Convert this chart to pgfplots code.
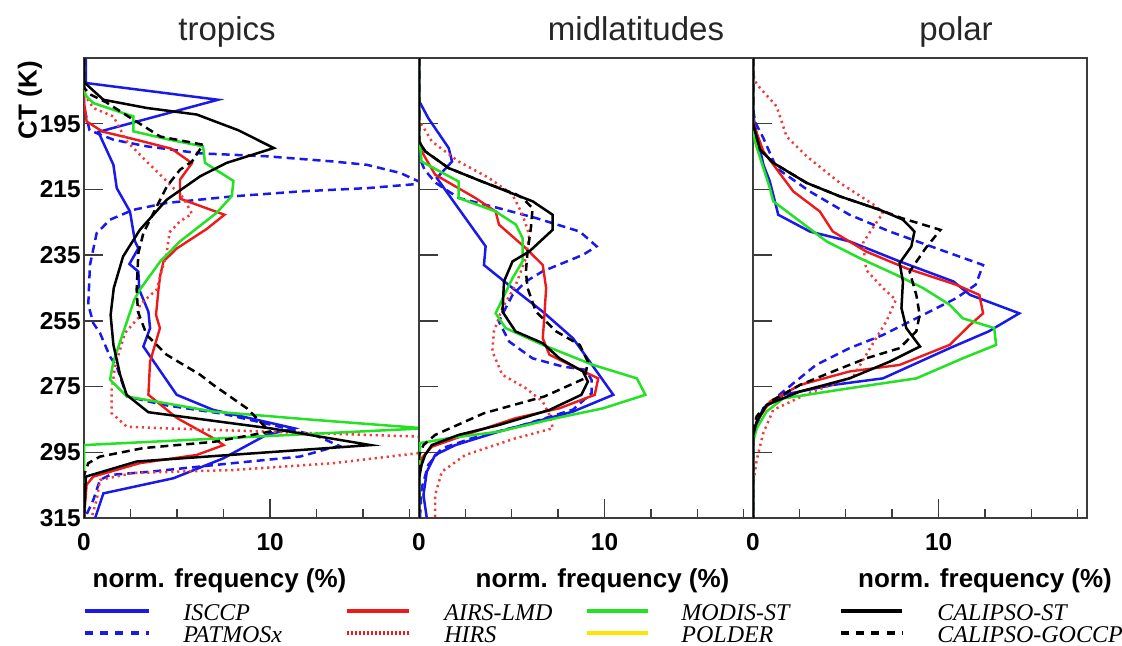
\documentclass[border=0pt]{standalone}
\usepackage{fontspec}
\setmainfont{Liberation Sans}
\newfontfamily\legfont{Liberation Serif}
\usepackage{pgfplots}
\pgfplotsset{compat=1.18}
\definecolor{cblue}{RGB}{25,25,235}
\definecolor{cred}{RGB}{240,25,25}
\definecolor{cgreen}{RGB}{35,225,35}
\definecolor{cyel}{RGB}{250,230,0}
\definecolor{axgray}{RGB}{60,60,60}
\pgfplotsset{
 panel/.style={scale only axis, height=230pt, xmin=0, xmax=18, ymin=175, ymax=315, y dir=reverse,
  xtick={0,10}, xticklabels={0,10}, minor xtick={2.5,5,7.5,12.5,15,17.5},
  ytick={195,215,235,255,275,295,315},
  xtick pos=bottom, ytick pos=left, tick align=inside,
  major tick length=9.5pt, minor tick length=4.5pt,
  axis line style={axgray, line width=0.7pt},
  tick style={axgray, line width=0.7pt},
  tick label style={font=\fontsize{12.2}{13}\selectfont\bfseries},
  /pgf/number format/assume math mode=true,
  xticklabel style={yshift=-4pt},
  yticklabel style={inner xsep=1.5pt},
  anchor=south west},
 s1/.style={cblue, line width=1.25pt},
 s2/.style={cblue, line width=1.25pt, dash pattern=on 4pt off 2.5pt},
 s3/.style={cred, line width=1.2pt},
 s4/.style={cred!85, line width=1.25pt, dash pattern=on 1.1pt off 1.9pt},
 s5/.style={cgreen, line width=1.25pt},
 s6/.style={black, line width=1.25pt},
 s7/.style={black, line width=1.25pt, dash pattern=on 4pt off 2.5pt},
}
\begin{document}
\begin{tikzpicture}
\useasboundingbox (0,0) rectangle (561pt,-322.5pt);
% ---------------- tropics
\begin{axis}[panel, at={(42pt,-259pt)}, width=167.5pt,
  yticklabels={195,215,235,255,275,295,315}]
\addplot[s1] coordinates {(0.1,175) (0.1,182.6) (7.2,187.7) (0.77,197.5) (1.58,207.5) (1.76,214.6) (2.47,221.7) (2.74,230.8) (2.92,232.9) (2.44,237.7) (2.92,240) (2.97,245.5) (3.46,252.2) (3.55,257.2) (3.19,262.8) (4.98,277.5) (6.95,282.1) (11.3,287.7) (9.8,289.7) (7.5,296.8) (4.8,302.9) (1.04,307.5) (0.6,315)};
\addplot[s2] coordinates {(0,175) (0,190) (0.3,197) (1.6,199.9) (3.4,201.9) (6.2,204) (9.8,204.9) (13.4,206.5) (15.2,207.5) (17,210) (18,212.6) (18.4,213) (18,213.3) (15.2,214.6) (11.6,215.6) (8,217.1) (4.45,219.1) (2.65,221.2) (1.4,224.2) (0.68,228.3) (0.32,238) (0.23,250) (0.5,255.7) (0.86,258.7) (1.4,265.9) (1.76,268.9) (2.3,278) (4.3,280.6) (7.5,283.3) (10.5,287.2) (12.5,290) (13.7,293) (11.6,296.3) (8,298.3) (3.55,300.9) (1.4,301.9) (0.86,303.4) (0.5,309.5) (0.05,315)};
\addplot[s3] coordinates {(0,175) (0,189) (0.05,190.2) (0.14,194.3) (1.0,197.4) (2.47,199.4) (4.7,202.6) (5.8,207) (5.16,212) (5.16,217.8) (7.55,222.7) (6.6,227) (5.0,232.9) (4.27,236.9) (4.1,241) (4.0,245.5) (3.87,253.2) (4.08,257.2) (3.55,267.4) (3.46,277.5) (5.0,284.6) (6.95,290.7) (7.5,292.8) (6.06,295.8) (3.0,298.3) (0.5,302.4) (0.14,304.9) (0,315)};
\addplot[s4] coordinates {(0,175) (0,186) (0.5,190.2) (1.58,192.8) (2.3,200.4) (3.37,206.5) (4.44,212.5) (5.34,217.6) (5.8,222.4) (5.16,224.7) (4.6,228) (4.44,234.4) (3.9,245.5) (3.0,250.1) (2.9,254.2) (2.2,258.7) (1.67,268.9) (1.49,276) (1.49,283.1) (2.3,287.2) (4.45,287.7) (9.8,288.7) (17.9,290.2) (20,292.5) (17.9,295.3) (13.4,298.3) (8.0,300.4) (2.65,301.3) (0.86,303.4) (0.68,309.5) (0.4,315)};
\addplot[s5] coordinates {(0,175) (0,185) (0.14,186.7) (0.5,188.7) (2.65,192.8) (2.65,197.3) (4.62,199.9) (6.4,201.9) (6.5,206.9) (8.03,212.4) (7.94,217) (7.13,222.1) (5.16,230.8) (4.1,236.9) (3.0,245.5) (2.7,248.6) (1.58,267.4) (1.4,272.9) (2.3,278) (6.95,282.6) (12.3,285.1) (18.3,287.7) (0,292.8) (0,315)};
\addplot[s6] coordinates {(0,175) (0,181.5) (0.05,182.6) (1.04,187.7) (3.37,190.2) (6.06,192.2) (8.3,197) (10.2,202.4) (7.67,206.9) (6.24,211) (4.45,218.1) (3.0,227.3) (2.1,235.4) (1.6,245) (1.43,253.2) (1.58,262.3) (1.94,271.4) (2.29,277.5) (3.46,282.8) (10.0,287.7) (15.4,292.8) (2.83,297.8) (0.1,302.4) (0,315)};
\addplot[s7] coordinates {(0,175) (0,184) (0.3,186) (1.2,188.5) (2.38,192.8) (4.1,198.9) (6.4,201.4) (5.8,206.5) (5.16,209) (4.45,214.1) (3.73,222.2) (3.19,228.3) (2.92,234.4) (2.83,245.5) (2.9,252.2) (3.37,259.3) (4.44,265.3) (6.24,271.4) (6.95,274.5) (8.75,281.6) (9.82,287.7) (10.0,288.7) (7.0,291.8) (3.2,293.7) (0.86,296.3) (0.23,298.3) (0,302) (0,315)};
\end{axis}
% ---------------- midlatitudes
\begin{axis}[panel, at={(209.5pt,-259pt)}, width=167pt, yticklabels={}]
\addplot[s1] coordinates {(0,175) (0,188) (0.5,193.3) (1.6,202.4) (1.78,206.5) (0.96,211.5) (1.6,216.6) (2.5,223.7) (3.59,232.3) (3.5,238) (5.04,245) (6.67,252.2) (8.3,260.3) (9.2,267.4) (10.47,277.5) (8.3,282.6) (4.3,288.7) (1.96,292.8) (0.87,295.8) (0.42,300.9) (0.24,308) (0.42,315)};
\addplot[s2] coordinates {(0,175) (0,205) (0.3,209) (0.9,213) (2.14,217.6) (4.3,220.7) (6.3,223.7) (8.66,227.8) (9.57,232.3) (8.84,234.9) (6.67,239.9) (5.76,243) (5.04,247.1) (4.67,251.1) (4.3,255.2) (4.86,261.3) (6.12,266.4) (7.75,268.9) (9.0,269.9) (9.3,273) (9.3,277) (8.3,282) (5.6,286.7) (2.86,290.7) (1.23,293.8) (0.5,298.8) (0.14,306) (0.05,315)};
\addplot[s3] coordinates {(0,175) (0,199) (0.14,203.4) (0.87,210.5) (3.04,217.6) (4.13,221.7) (4.31,225.7) (5.76,232.9) (6.67,238) (6.85,245) (6.76,253.2) (6.67,260.3) (7.03,265.3) (8.5,269.4) (9.66,272.5) (9.47,277.5) (7.57,281.6) (5.22,284.6) (2.5,289.7) (0.69,293.3) (0.14,296.8) (0,300) (0,315)};
\addplot[s4] coordinates {(0,175) (0,190) (0.05,194.3) (0.69,200.4) (2.14,206.5) (3.77,211.5) (5.04,216.6) (5.58,222.7) (5.94,228.8) (5.76,235.9) (5.22,244) (4.49,251.1) (4.04,258.2) (3.95,264.3) (4.49,271.4) (5.76,275.5) (6.67,279.6) (7.03,283.6) (7.21,287.7) (5.22,290.7) (2.5,295.8) (1.23,300.9) (0.87,308) (0.87,315)};
\addplot[s5] coordinates {(0,175) (0,198) (0.14,206.5) (2.14,212.6) (2.14,217.6) (4.13,221.7) (5.22,225.7) (5.58,229.8) (5.58,236.9) (5.04,242) (4.13,252.7) (4.67,257.2) (6.67,262.3) (9.38,268.4) (11.74,272.5) (12.2,277.5) (9.93,281.6) (7.39,284.6) (4.31,288.7) (1.6,290.7) (0.05,292.2) (0,315)};
\addplot[s6] coordinates {(0,175) (0,200.4) (0.33,203.4) (1.6,208.5) (3.4,212.6) (5.2,216.6) (6.12,218.6) (7.2,222.7) (7.2,227.3) (5.94,233.9) (5.04,236.9) (4.58,243) (4.5,252.2) (5.2,258.2) (6.67,261.8) (7.57,266.4) (8.84,270.4) (9.1,273.5) (8.75,277.5) (7.03,282.1) (4.3,286.7) (2.14,289.7) (0.69,292.8) (0.33,295.8) (0.14,298.8) (0,303) (0,315)};
\addplot[s7] coordinates {(0,175) (0,200.4) (0.33,203.4) (1.6,208.5) (3.4,212.6) (5.2,216.4) (5.58,217.6) (6.12,220.7) (6.03,226.8) (5.85,233.9) (5.76,240) (5.85,245) (6.3,252.2) (7.39,258.2) (8.66,262.3) (9.1,267.4) (8.93,272.5) (6.76,278) (3.5,283.1) (0.87,289.7) (0.24,292.8) (0,296) (0,315)};
\end{axis}
% ---------------- polar
\begin{axis}[panel, at={(376.5pt,-259pt)}, width=167pt, yticklabels={}]
\addplot[s1] coordinates {(0,175) (0,192.2) (0.2,198.3) (0.56,207.5) (0.91,212.6) (1.36,222.7) (3.06,227.8) (5.2,230.8) (7.9,236.9) (10.8,243) (11.7,247.1) (14.35,252.7) (12.7,258.2) (10.6,263.3) (8.8,267.9) (7.0,272.5) (4.3,274.5) (1.63,277.5) (0.56,281.6) (0.1,287.7) (0,290) (0,315)};
\addplot[s2] coordinates {(0,175) (0,190) (0.1,194.3) (0.56,199.4) (1.27,208.5) (3.06,215.6) (5.2,222.7) (7.37,227.8) (9.87,232.9) (12.4,238) (12.0,244) (10.95,248.1) (9.16,253.2) (7.0,259.3) (5.2,263.3) (3.4,268.4) (1.63,276.5) (0.56,281.6) (0.1,287.7) (0,290) (0,315)};
\addplot[s3] coordinates {(0,175) (0,193) (0.1,196.3) (0.56,203.4) (2.17,215.6) (3.6,221.7) (4.3,227.8) (6.1,233.9) (8.26,239) (10.95,244) (12.2,247.1) (12.4,252.7) (11.7,256.2) (10.6,262.3) (7.9,268.4) (5.2,270.4) (2.53,274.5) (0.91,279.6) (0.2,285.6) (0,290) (0,315)};
\addplot[s4] coordinates {(0,175) (0,180) (0.2,183) (1.27,189.7) (1.81,198.9) (2.89,204.9) (4.68,213) (6.6,220) (7.0,222.2) (6.3,228) (5.93,231.3) (6.1,239.5) (7.0,245) (7.7,248.6) (7.2,255) (6.47,261.8) (5.4,272) (3.0,277) (1.09,282.1) (0.55,289.2) (0.2,297.3) (0,305) (0,315)};
\addplot[s5] coordinates {(0,175) (0,194.3) (0.1,200.4) (0.56,208.5) (0.91,214.6) (1.09,218.6) (2.53,224.7) (3.96,230.8) (5.75,235.9) (7.72,241) (9.16,245) (10.6,250.1) (11.3,254.2) (13.0,257.2) (13.1,262.3) (11.3,266.4) (8.8,272.5) (5.2,275.5) (1.63,278.6) (0.73,282.6) (0.2,287.7) (0,292) (0,315)};
\addplot[s6] coordinates {(0,175) (0,195) (0.38,202.9) (1.09,206.9) (2.89,213) (4.68,217.1) (6.83,221.2) (8.08,224.2) (8.7,227.8) (8.53,232.4) (7.9,237.4) (8.08,243) (8.0,251.1) (8.26,257.2) (9.0,262.8) (7.37,267.4) (5.2,272.5) (2.53,276.5) (0.73,280.6) (0.2,285.6) (0,290) (0,315)};
\addplot[s7] coordinates {(0,175) (0,195) (0.38,202.9) (1.09,206.9) (2.89,213) (4.68,217.1) (6.83,221.2) (8.0,223.7) (10.1,227.3) (9.3,232.9) (8.44,240) (8.8,247.1) (8.98,253.2) (8.8,258.2) (7.9,263.3) (6.1,266.4) (4.3,270.4) (2.53,274.5) (0.91,279.6) (0.2,284) (0,288) (0,315)};
\end{axis}
% ---------------- titles and labels
\begin{scope}[every node/.style={inner sep=0pt}]
\node[anchor=base, text=black!85, font=\fontsize{16.5}{18}\selectfont] at (113.5pt,-20pt) {tropics};
\node[anchor=base, text=black!85, font=\fontsize{16.5}{18}\selectfont] at (318pt,-20pt) {midlatitudes};
\node[anchor=base, text=black!85, font=\fontsize{16.5}{18}\selectfont] at (478pt,-20pt) {polar};
\node[rotate=90, font=\fontsize{13}{14}\selectfont\bfseries] at (15pt,-50pt) {CT (K)};
\node[anchor=base, font=\fontsize{13}{14}\selectfont\bfseries] at (109.75pt,-293.5pt) {norm. frequency (\%)};
\node[anchor=base, font=\fontsize{13}{14}\selectfont\bfseries] at (301.25pt,-293.5pt) {norm. frequency (\%)};
\node[anchor=base, font=\fontsize{13}{14}\selectfont\bfseries] at (492.5pt,-293.5pt) {norm. frequency (\%)};
% legend
\tikzset{lg/.style={line width=2pt}, lgd/.style={line width=2pt, dash pattern=on 4pt off 3.6pt}}
\draw[cblue, lg] (42.5pt,-305.5pt) -- (74.5pt,-305.5pt);
\draw[cblue, lgd] (42.5pt,-316.5pt) -- (74.5pt,-316.5pt);
\draw[cred, lg] (173.5pt,-305.5pt) -- (204.5pt,-305.5pt);
\draw[cred, line width=2pt, dash pattern=on 1pt off 1pt] (173.5pt,-316.5pt) -- (204.5pt,-316.5pt);
\draw[cgreen, lg] (293.5pt,-305.5pt) -- (324pt,-305.5pt);
\draw[cyel, lg] (293.5pt,-316.5pt) -- (324pt,-316.5pt);
\draw[black, lg] (420.5pt,-305.5pt) -- (451pt,-305.5pt);
\draw[black, lgd] (420.5pt,-316.5pt) -- (451pt,-316.5pt);
\tikzset{leg/.style={anchor=base west, font=\legfont\itshape\fontsize{12}{13}\selectfont}}
\node[leg] at (91.5pt,-310pt) {ISCCP};
\node[leg] at (91.5pt,-321pt) {PATMOSx};
\node[leg] at (222pt,-310pt) {AIRS-LMD};
\node[leg] at (222pt,-321pt) {HIRS};
\node[leg] at (340.5pt,-310pt) {MODIS-ST};
\node[leg] at (340.5pt,-321pt) {POLDER};
\node[leg] at (468.5pt,-310pt) {CALIPSO-ST};
\node[leg] at (468.5pt,-321pt) {CALIPSO-GOCCP};
\end{scope}
\end{tikzpicture}
\end{document}
